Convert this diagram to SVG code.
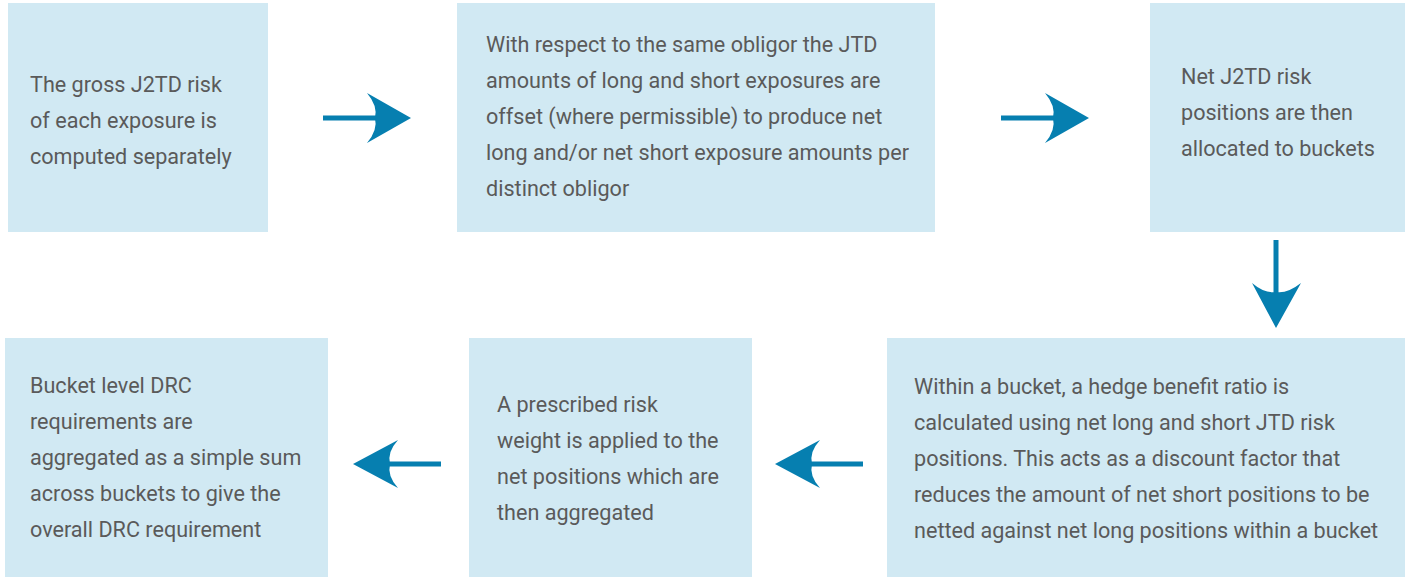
<svg xmlns="http://www.w3.org/2000/svg" width="1411" height="577" viewBox="0 0 1411 577">
<style>
.box{fill:#d1e9f3}
.t{font-family:Roboto,"Liberation Sans",sans-serif;font-size:21.6px;fill:#5a5a5a}
.ln{stroke:#067fb0;stroke-width:5;fill:none}
.hd{fill:#067fb0}
</style>
<rect width="1411" height="577" fill="#ffffff"/>
<g id="n1"><rect class="box" x="8" y="3" width="260" height="229"/>
<text class="t"><tspan x="30" y="92">The gross J2TD risk</tspan><tspan x="30" y="128">of each exposure is</tspan><tspan x="30" y="164">computed separately</tspan></text></g>
<g id="n2"><rect class="box" x="457" y="3" width="478" height="229"/>
<text class="t"><tspan x="486" y="52">With respect to the same obligor the JTD</tspan><tspan x="486" y="88">amounts of long and short exposures are</tspan><tspan x="486" y="124">offset (where permissible) to produce net</tspan><tspan x="486" y="160">long and/or net short exposure amounts per</tspan><tspan x="486" y="196">distinct obligor</tspan></text></g>
<g id="n3"><rect class="box" x="1150" y="3" width="255" height="229"/>
<text class="t"><tspan x="1181" y="84">Net J2TD risk</tspan><tspan x="1181" y="120">positions are then</tspan><tspan x="1181" y="156">allocated to buckets</tspan></text></g>
<g id="n4"><rect class="box" x="887" y="338" width="518" height="239"/>
<text class="t"><tspan x="914" y="394">Within a bucket, a hedge benefit ratio is</tspan><tspan x="914" y="430">calculated using net long and short JTD risk</tspan><tspan x="914" y="466">positions. This acts as a discount factor that</tspan><tspan x="914" y="502">reduces the amount of net short positions to be</tspan><tspan x="914" y="538">netted against net long positions within a bucket</tspan></text></g>
<g id="n5"><rect class="box" x="469" y="338" width="283" height="239"/>
<text class="t"><tspan x="497" y="412">A prescribed risk</tspan><tspan x="497" y="448">weight is applied to the</tspan><tspan x="497" y="484">net positions which are</tspan><tspan x="497" y="520">then aggregated</tspan></text></g>
<g id="n6"><rect class="box" x="5" y="338" width="323" height="239"/>
<text class="t"><tspan x="30" y="393">Bucket level DRC</tspan><tspan x="30" y="429">requirements are</tspan><tspan x="30" y="465">aggregated as a simple sum</tspan><tspan x="30" y="501">across buckets to give the</tspan><tspan x="30" y="537">overall DRC requirement</tspan></text></g>
<g id="connectors">
<line class="ln" x1="323" y1="118" x2="378" y2="118"/>
<path class="hd" d="M411 118 L367 93 Q378 106 375 118 Q378 130 367 143 Z"/>
<line class="ln" x1="1001" y1="118" x2="1056" y2="118"/>
<path class="hd" d="M1089 118 L1045 93 Q1056 106 1053 118 Q1056 130 1045 143 Z"/>
<line class="ln" x1="1276" y1="240" x2="1276" y2="296"/>
<path class="hd" d="M1276 328 L1252 283 Q1265 294 1276 292 Q1287 294 1301 283 Z"/>
<line class="ln" x1="441" y1="464" x2="386" y2="464"/>
<path class="hd" d="M353 464 L398 440 Q387 452 390 464 Q387 476 398 488 Z"/>
<line class="ln" x1="863" y1="464" x2="808" y2="464"/>
<path class="hd" d="M775 464 L820 440 Q809 452 812 464 Q809 476 820 488 Z"/>
</g>
</svg>
